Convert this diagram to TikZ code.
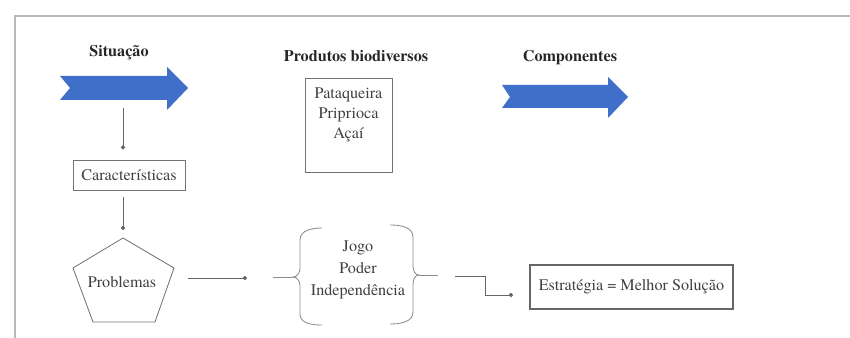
\documentclass[tikz,border=0pt]{standalone}
\usepackage{fontspec}
\setmainfont{texgyretermes}[Extension=.otf,UprightFont=*-regular,BoldFont=*-bold,
  ItalicFont=*-italic,BoldItalicFont=*-bolditalic]
\usetikzlibrary{arrows.meta}
\definecolor{arrowblue}{HTML}{3F6FC8}
\definecolor{framegray}{gray}{0.72}

\begin{document}
\begin{tikzpicture}[x=0.25mm,y=-0.25mm,
    box/.style={draw=black!55,line width=0.6pt,inner sep=1pt},
    title/.style={font=\fontsize{11.5}{14}\selectfont\bfseries,text=black!85,inner sep=1pt},
    lab/.style={font=\fontsize{11.5}{14}\selectfont,text=black!75,inner sep=1pt},
    link/.style={draw=black!60,line width=0.5pt,-{Circle[length=3pt]}},
    bline/.style={draw=black!45,line width=0.6pt},
    bigarrow/.style={fill=arrowblue}]
  \useasboundingbox (0,0) rectangle (850,338);
  % frame
  \draw[framegray,line width=1.2pt] (15,338) -- (15,16) -- (850,16);

  % headings
  \node[title] (sit) at (119,53) {Situação};
  \node[title] (prod) at (356,56) {Produtos biodiversos};
  \node[title] (comp) at (570,58) {Componentes};

  % block arrows
  \fill[bigarrow] (60,76) -- (167,76) -- (167,67) -- (188,88) -- (167,110)
    -- (167,100) -- (60,100) -- (70,88) -- cycle;
  \fill[bigarrow] (502,85) -- (608,85) -- (608,77) -- (628,97) -- (608,118)
    -- (608,108) -- (502,108) -- (510,97) -- cycle;

  % products
  \node[box,minimum width=21.75mm,minimum height=23.5mm] (pbox) at (348.5,125) {};
  \node[lab,align=center,font=\fontsize{11.5}{14}\selectfont] (plist) at (348.5,115)
    {Pataqueira\\Priprioca\\Açaí};

  % left column
  \node[box,lab,draw=black!55,minimum width=28mm,minimum height=7.5mm] (car) at (129,175) {Características};
  \coordinate (s1) at (123,108);
  \coordinate (ptop) at (123,238);
  \draw[black!55,line width=0.6pt] (ptop) -- (174,268) -- (155,322) -- (93,322) -- (73,268) -- cycle;
  \node[lab] (prob) at (122,282) {Problemas};
  \draw[link,shorten >=2.5mm] (s1) -- (s1 |- car.north);
  \draw[link,shorten <=1.75mm,shorten >=2mm] (s1 |- car.south) -- (ptop);

  % bracketed group
  \node[lab,align=center,font=\fontsize{11.5}{15.6}\selectfont] (grp) at (358,270)
    {Jogo\\Poder\\Independência};
  \draw[bline] (322,228) to[out=180,in=90] (300,240) -- (300,268)
    to[out=-90,in=0] (293,277) to[out=0,in=90] (300,286) -- (300,314)
    to[out=-90,in=180] (322,325);
  \draw[bline] (273,277) -- (293,277);
  \draw[bline] (390,225) to[out=0,in=90] (413,237) -- (413,266)
    to[out=-90,in=180] (419,275) to[out=180,in=90] (413,284) -- (413,312)
    to[out=-90,in=0] (390,324);
  \draw[bline] (419,275) -- (438,275);

  \node[lab,draw=black!60,line width=1.1pt,minimum width=50.75mm,minimum height=11mm] (strat)
    at (631.5,287) {Estratégia = Melhor Solução};

  \coordinate (p1) at (188,278);
  \coordinate (p2) at (247,278);
  \coordinate (q1) at (455,276);
  \coordinate (q2) at (513,295);
  \draw[link] (p1) -- (p2);
  \draw[link] (q1) -- (485,276) |- (q2);
\end{tikzpicture}
\end{document}
